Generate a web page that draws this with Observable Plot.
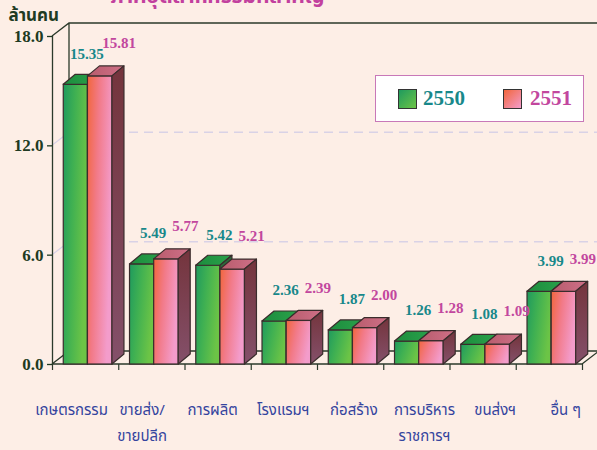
<!DOCTYPE html>
<html><head><meta charset="utf-8">
<script src="https://cdn.jsdelivr.net/npm/d3@7"></script>
<script src="https://cdn.jsdelivr.net/npm/@observablehq/plot@0.6"></script>
<style>
html,body{margin:0;padding:0;background:#fdeee6;}
#wrap{position:relative;width:597px;height:450px;overflow:hidden;background:#fdeee6;}
#wrap svg{position:absolute;left:0;top:0;background:transparent;}
#legend{position:absolute;left:375px;top:75px;width:207px;height:45px;background:#fff;border:1.5px solid #c878b8;font:bold 21px "Liberation Serif","Times New Roman",serif;}
#legend .sw{position:absolute;width:17px;height:18px;border:1.3px solid #333;top:13px;}
#legend .lb{position:absolute;top:10px;line-height:24px;}
</style></head><body><div id="wrap"></div>
<script>
// ---- data ----
const categories = ["เกษตรกรรม", "ขายส่ง/\nขายปลีก", "การผลิต", "โรงแรมฯ", "ก่อสร้าง", "การบริหาร\nราชการฯ", "ขนส่งฯ", "อื่น ๆ"];
const years = ["2550", "2551"];
const values2550 = [15.35, 5.49, 5.42, 2.36, 1.87, 1.26, 1.08, 3.99];
const values2551 = [15.81, 5.77, 5.21, 2.39, 2.00, 1.28, 1.09, 3.99];
const yTicks = [0, 6, 12, 18];
const titleText = "ภาคอุตสาหกรรมที่สำคัญ";
const yLabel = "ล้านคน";

const table = [];
categories.forEach((c, i) => {
  table.push({i, cat: c, year: years[0], s: 0, value: values2550[i]});
  table.push({i, cat: c, year: years[1], s: 1, value: values2551[i]});
});

const serif = '"Liberation Serif","Times New Roman",serif';
const thai = '"Noto Sans Thai","Loma","Garuda","Tlwg Typo","DejaVu Sans","Noto Sans",sans-serif';
const DX = 12, DY = -10;   // bar depth (px)
const WX = 17, WY = -13;   // wall depth (px)
const offs = [[0.17, 0.535], [0.535, 0.905]];

function walls(index, scales) {
  const {x, y} = scales;
  const g = d3.create("svg:g");
  const X0 = x(0), XR = 640, Y0 = y(0), YT = y(18);
  const grid = "#d9d2e6";
  for (const v of [6, 12]) {
    g.append("line").attr("x1", X0).attr("y1", y(v)).attr("x2", X0 + WX).attr("y2", y(v) + WY)
      .attr("stroke", grid).attr("stroke-width", 1.2);
    g.append("line").attr("x1", X0 + WX).attr("y1", y(v) + WY).attr("x2", XR).attr("y2", y(v) + WY)
      .attr("stroke", grid).attr("stroke-width", 1.5).attr("stroke-dasharray", "9,6");
  }
  const frame = "#2b3a2b";
  g.append("path")
    .attr("d", `M${X0},${YT}L${X0 + WX},${YT + WY}L${XR},${YT + WY}M${X0 + WX},${YT + WY}L${X0 + WX},${Y0 + WY}`)
    .attr("fill", "none").attr("stroke", frame).attr("stroke-width", 1.3);
  // floor
  g.append("path")
    .attr("d", `M${X0},${Y0}L${X0 + WX},${Y0 + WY}L${XR},${Y0 + WY}M${x(8)},${Y0}L${x(8) + WX},${Y0 + WY}M${X0},${Y0}L${x(8)},${Y0}`)
    .attr("fill", "none").attr("stroke", frame).attr("stroke-width", 1.3);
  return g.node();
}

function bars3d(index, scales) {
  const {x, y} = scales;
  const g = d3.create("svg:g");
  const defs = g.append("defs");
  function grad(id, stops, x2 = 1, y2 = 1) {
    const lg = defs.append("linearGradient").attr("id", id)
      .attr("x1", 0).attr("y1", 0).attr("x2", x2).attr("y2", y2);
    stops.forEach(([o, c]) => lg.append("stop").attr("offset", o).attr("stop-color", c));
  }
  grad("gF0", [[0, "#1f9a5e"], [0.45, "#3fb052"], [1, "#6cc446"]], 1, 0.35);
  grad("gT0", [[0, "#1c8c3e"], [1, "#2aa24a"]], 1, 0);
  grad("gS0", [[0, "#2a6a3a"], [1, "#3a7a45"]], 0, 1);
  grad("gF1", [[0, "#f2663c"], [0.45, "#f27a88"], [1, "#f39ccb"]], 1, 0.35);
  grad("gT1", [[0, "#b85c6c"], [1, "#cf7088"]], 1, 0);
  grad("gS1", [[0, "#74343c"], [1, "#84506a"]], 0, 1);
  const stroke = "#3a2c2c";
  for (const d of table) {
    const [a, b] = offs[d.s];
    const x1 = x(d.i + a), x2 = x(d.i + b), yt = y(d.value), yb = y(0);
    g.append("rect").attr("x", x1).attr("y", yt).attr("width", x2 - x1).attr("height", yb - yt)
      .attr("fill", `url(#gF${d.s})`).attr("stroke", stroke).attr("stroke-width", 1.2);
    g.append("path").attr("d", `M${x1},${yt}L${x1 + DX},${yt + DY}L${x2 + DX},${yt + DY}L${x2},${yt}Z`)
      .attr("fill", `url(#gT${d.s})`).attr("stroke", stroke).attr("stroke-width", 1.2).attr("stroke-linejoin", "round");
    g.append("path").attr("d", `M${x2},${yt}L${x2 + DX},${yt + DY}L${x2 + DX},${yb + DY}L${x2},${yb}Z`)
      .attr("fill", `url(#gS${d.s})`).attr("stroke", stroke).attr("stroke-width", 1.2).attr("stroke-linejoin", "round");
  }
  return g.node();
}

const labelColors = ["#18888a", "#c2479e"];

const chart = Plot.plot({
  width: 597, height: 450,
  marginLeft: 52, marginRight: 15, marginTop: 36, marginBottom: 86,
  style: {background: "transparent", overflow: "visible"},
  x: {type: "linear", domain: [0, 8], axis: null},
  y: {domain: [0, 18], axis: null},
  marks: [
    walls,
    Plot.ruleX([0], {y1: 0, y2: 18, stroke: "#2b3a2b", strokeWidth: 1.3}),
    Plot.axisX(d3.range(9), {tickSize: 6, tickFormat: () => "", stroke: "#2b3a2b", strokeWidth: 1.2}),
    Plot.axisY(yTicks, {tickSize: 5, tickFormat: () => "", stroke: "#203a22", strokeWidth: 1.3, label: null}),
    Plot.text(yTicks, {
      frameAnchor: "left", y: d => d, text: d => d3.format(".1f")(d), dx: -9, textAnchor: "end",
      fill: "#203a22", fontSize: 17, fontWeight: "bold", fontFamily: serif
    }),
    bars3d,
    Plot.text(table.filter(d => d.s === 0), {
      x: d => d.i + (offs[0][0] + offs[0][1]) / 2, y: "value", text: d => d.value.toFixed(2),
      dx: 11, dy: -31, fill: labelColors[0], fontSize: 15, fontWeight: "bold", fontFamily: serif
    }),
    Plot.text(table.filter(d => d.s === 1), {
      x: d => d.i + (offs[1][0] + offs[1][1]) / 2, y: "value", text: d => d.value.toFixed(2),
      dx: 19, dy: -33, fill: labelColors[1], fontSize: 15, fontWeight: "bold", fontFamily: serif
    }),
    Plot.text(categories, {
      x: (d, i) => 0.287 + 1.0657 * i, y: () => 0, text: d => d,
      dy: 32, lineAnchor: "top", lineHeight: 1.75, textAnchor: "middle",
      fill: "#34449e", fontSize: 15, fontFamily: thai
    }),
    Plot.text([titleText], {
      frameAnchor: "top-left", dx: 58, dy: -34, lineAnchor: "bottom", textAnchor: "start",
      fill: "#c2409e", fontSize: 21, fontWeight: "bold", fontFamily: thai
    }),
    Plot.text([yLabel], {
      frameAnchor: "top-left", dx: -44, dy: -16, lineAnchor: "bottom", textAnchor: "start",
      fill: "#203a22", fontSize: 17, fontWeight: "bold", fontFamily: thai
    })
  ]
});

const wrap = document.getElementById("wrap");
wrap.appendChild(chart);

const legend = document.createElement("div");
legend.id = "legend";
legend.innerHTML =
  `<div class="sw" style="left:22px;background:linear-gradient(135deg,#1f9a5e,#6cc446)"></div>` +
  `<div class="lb" style="left:47px;color:${labelColors[0]}">${years[0]}</div>` +
  `<div class="sw" style="left:127px;background:linear-gradient(135deg,#f2663c,#f39ccb)"></div>` +
  `<div class="lb" style="left:154px;color:${labelColors[1]}">${years[1]}</div>`;
wrap.appendChild(legend);
</script></body></html>
